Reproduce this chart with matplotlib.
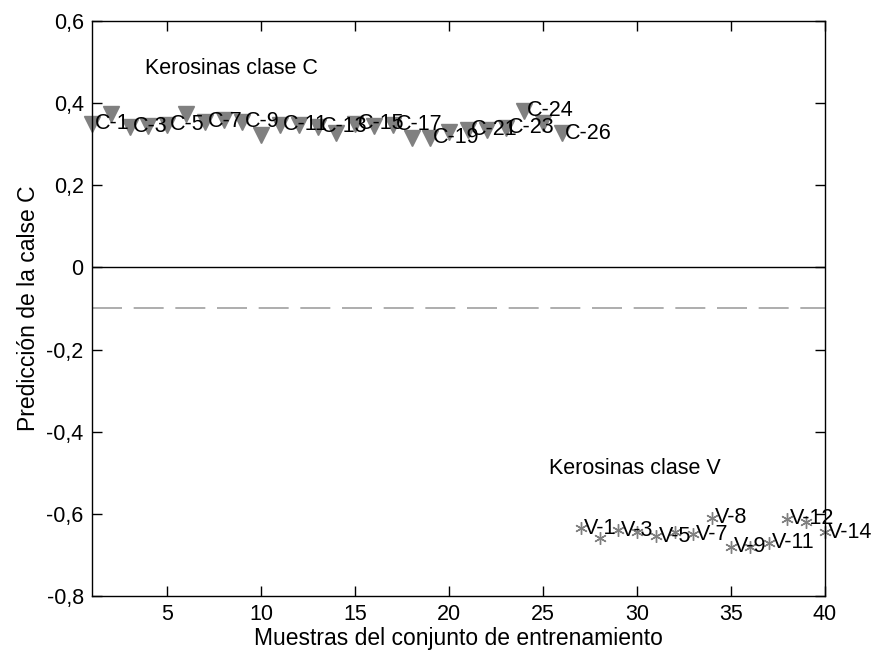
import matplotlib
matplotlib.use("Agg")
import matplotlib.pyplot as plt

# ---- data ----
c_x = list(range(1, 27))
c_y = [0.349, 0.373, 0.342, 0.344, 0.347, 0.373, 0.354, 0.359, 0.354, 0.322,
       0.347, 0.347, 0.342, 0.327, 0.349, 0.344, 0.347, 0.315, 0.315, 0.330,
       0.335, 0.335, 0.340, 0.381, 0.352, 0.327]
c_labels = {1: "C-1", 3: "C-3", 5: "C-5", 7: "C-7", 9: "C-9", 11: "C-11",
            13: "C-13", 15: "C-15", 17: "C-17", 19: "C-19", 21: "C-21",
            23: "C-23", 24: "C-24", 26: "C-26"}

v_x = list(range(27, 41))
v_y = [-0.635, -0.660, -0.640, -0.645, -0.655, -0.645, -0.650, -0.610,
       -0.680, -0.680, -0.670, -0.612, -0.620, -0.645]
v_labels = {1: "V-1", 3: "V-3", 5: "V-5", 7: "V-7", 8: "V-8", 9: "V-9",
            11: "V-11", 12: "V-12", 14: "V-14"}

yticks = [0.6, 0.4, 0.2, 0, -0.2, -0.4, -0.6, -0.8]
ytick_labels = ["0,6", "0,4", "0,2", "0", "-0,2", "-0,4", "-0,6", "-0,8"]
xticks = [5, 10, 15, 20, 25, 30, 35, 40]

plt.rcParams['font.family'] = ['Liberation Sans', 'DejaVu Sans']

fig = plt.figure(figsize=(8.74, 6.52), dpi=100)
ax = fig.add_axes([0.1053, 0.0859, 0.944 - 0.1053, 0.968 - 0.0859])

gray = '#808080'
fs = 15.5
ax.axhline(0, color='black', lw=1.0)
ax.axhline(-0.1, color='#a0a0a0', lw=1.2, dashes=(18, 7))

ax.plot(c_x, c_y, linestyle='none', marker='v', markersize=11,
        color=gray, markeredgecolor=gray, clip_on=False)
ax.plot(v_x, v_y, linestyle='none', marker=(6, 2, 0), markersize=9,
        color=gray, markeredgecolor=gray, markeredgewidth=1.0, clip_on=False)

for i, lab in c_labels.items():
    ax.text(c_x[i - 1] + 0.15, c_y[i - 1], lab, fontsize=fs,
            ha='left', va='center', clip_on=False)
for i, lab in v_labels.items():
    ax.text(v_x[i - 1] + 0.15, v_y[i - 1], lab, fontsize=fs,
            ha='left', va='center', clip_on=False)

ax.text(3.8, 0.485, "Kerosinas clase C", fontsize=fs, ha='left', va='center')
ax.text(25.3, -0.49, "Kerosinas clase V", fontsize=fs, ha='left', va='center')

ax.set_xlim(1, 40)
ax.set_ylim(-0.8, 0.6)
ax.set_xticks(xticks)
ax.set_yticks(yticks)
ax.set_yticklabels(ytick_labels)
ax.tick_params(direction='in', length=7, width=1, top=True, right=True,
               labelsize=fs, pad=6)
for s in ax.spines.values():
    s.set_linewidth(1.0)

ax.set_xlabel("Muestras del conjunto de entrenamiento", fontsize=16.5, labelpad=1)
ax.set_ylabel("Predicción de la calse C", fontsize=16.5, labelpad=5)

fig.savefig("out.png", dpi=100)
